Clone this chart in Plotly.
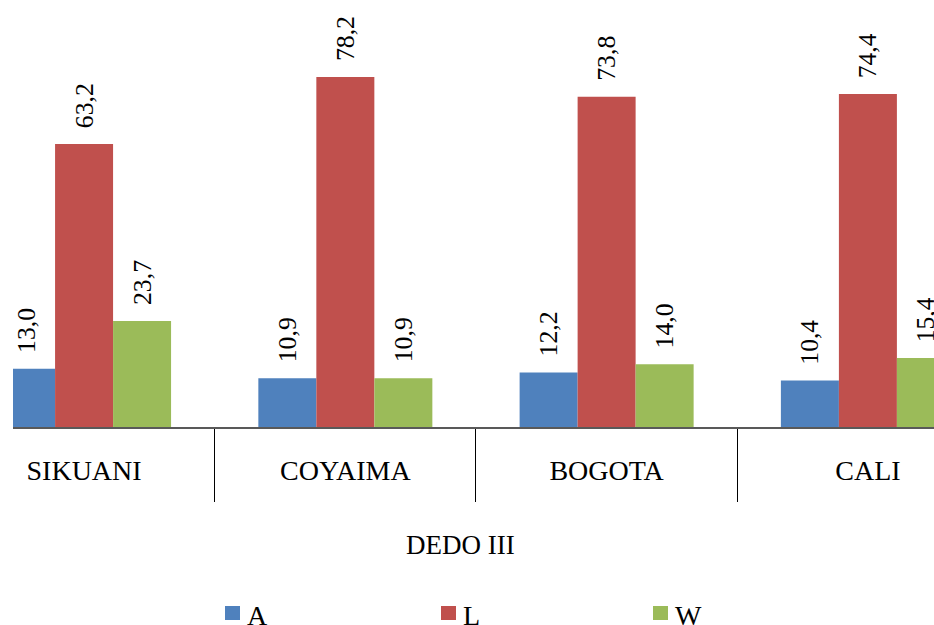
import plotly.graph_objects as go

# Categories and series values
categories = ["SIKUANI", "COYAIMA", "BOGOTA", "CALI"]
series_names = ["A", "L", "W"]
values_a = [13.0, 10.9, 12.2, 10.4]
values_l = [63.2, 78.2, 73.8, 74.4]
values_w = [23.7, 10.9, 14.0, 15.4]
series_colors = ["#4F81BD", "#C0504D", "#9BBB59"]
axis_title = "DEDO III"

W, H = 934, 625
ML, MR, MT, MB = 13, 0, 0, 198
FONT = "Liberation Serif, Times New Roman, serif"

fig = go.Figure()
for name, vals, col in zip(series_names, [values_a, values_l, values_w], series_colors):
    fig.add_trace(go.Bar(
        x=categories, y=vals, name=name,
        marker=dict(color=col, line=dict(width=0)),
        # non-breaking spaces keep a wider gap between bar top and its label
        texttemplate="\u00a0\u00a0%{y:.1f}", textposition="outside", textangle=-90,
        textfont=dict(family=FONT, size=27, color="black"),
        showlegend=False,
    ))

plot_w = W - ML - MR
plot_h = H - MT - MB

def px_x(px):
    return (px - ML) / plot_w

def px_y(py):
    return (H - MB - py) / plot_h

annotations = [dict(
    text=axis_title, xref="paper", yref="paper", x=px_x(460), y=px_y(545),
    xanchor="center", yanchor="middle", showarrow=False,
    font=dict(family=FONT, size=27, color="black"),
)]
shapes = []
legend_x = [225, 441, 653]
for name, col, lx in zip(series_names, series_colors, legend_x):
    shapes.append(dict(type="rect", xref="paper", yref="paper",
                       x0=px_x(lx), x1=px_x(lx + 15), y0=px_y(606), y1=px_y(620),
                       fillcolor=col, line=dict(width=0)))
    annotations.append(dict(
        text=name, xref="paper", yref="paper", x=px_x(lx + 20), y=px_y(598),
        xanchor="left", yanchor="top", showarrow=False,
        font=dict(family=FONT, size=28, color="black"),
    ))

fig.update_layout(
    width=W, height=H,
    margin=dict(l=ML, r=MR, t=MT, b=MB, autoexpand=False),
    paper_bgcolor="white", plot_bgcolor="white",
    barmode="group", bargap=0.334, bargroupgap=0,
    separators=",.",
    annotations=annotations, shapes=shapes,
    xaxis=dict(
        range=[-0.272, 3.253], showgrid=False, zeroline=False,
        showline=True, linecolor="#595959", linewidth=1.5,
        ticks="outside", tickson="boundaries", ticklen=73, tickwidth=1.3,
        tickcolor="black", ticklabelstandoff=18,
        tickfont=dict(family=FONT, size=28, color="black"),
    ),
    yaxis=dict(range=[0, 95.4], visible=False),
)

fig.write_html("out.html")
